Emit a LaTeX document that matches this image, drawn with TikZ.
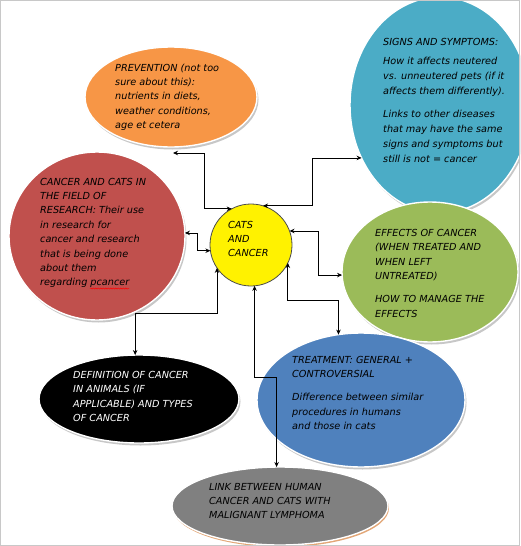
\documentclass[tikz,border=0pt]{standalone}
\usepackage{fontspec}
\setmainfont{DejaVu Sans}
\usetikzlibrary{shapes.geometric,arrows.meta,decorations.pathmorphing}
\definecolor{orangeF}{HTML}{F79646}
\definecolor{blueS}{HTML}{4BACC6}
\definecolor{redR}{HTML}{C0504D}
\definecolor{greenE}{HTML}{9BBB59}
\definecolor{blueT}{HTML}{4F81BD}
\definecolor{greyL}{HTML}{808080}
\definecolor{frameC}{HTML}{C8C8C8}
\definecolor{rimO}{HTML}{E2A676}
\begin{document}
\begin{tikzpicture}[x=1pt,y=-1pt,
  bubble/.style={ellipse,inner sep=0pt,outer sep=0pt,draw=white,line width=1.4pt},
  shadowfill/.style={fill=black!22},
  txt/.style={anchor=base west,inner sep=0pt,font=\fontsize{9.7}{14.4}\selectfont\itshape},
  conn/.style={draw=black,line width=0.8pt,{Stealth[length=5pt,width=4.5pt]}-{Stealth[length=5pt,width=4.5pt]}}
]
\useasboundingbox (0,0) rectangle (520,546);
\begin{scope}
\clip (0,0) rectangle (520,546);
% shadows
\fill[shadowfill] (172.5,99.5) ellipse [x radius=86, y radius=50];
\fill[shadowfill] (441.5,107.5) ellipse [x radius=90, y radius=108];
\fill[shadowfill] (98.5,238.5) ellipse [x radius=88, y radius=84];
\fill[shadowfill] (431.5,274.5) ellipse [x radius=88, y radius=70];
\fill[shadowfill] (362.5,402.5) ellipse [x radius=104, y radius=67];
\fill[shadowfill] (140.5,401.5) ellipse [x radius=100, y radius=44];
\fill[rimO] (281,508) ellipse [x radius=108, y radius=39];
% shapes
\node[bubble,fill=orangeF,minimum width=172pt,minimum height=100pt] (prev) at (171,97) {};
\node[bubble,fill=blueS,minimum width=180pt,minimum height=216pt] (signs) at (440,105) {};
\node[bubble,fill=redR,minimum width=176pt,minimum height=168pt] (red) at (97,236) {};
\node[bubble,fill=greenE,minimum width=176pt,minimum height=140pt] (eff) at (430,272) {};
\node[bubble,fill=blueT,minimum width=208pt,minimum height=134pt] (treat) at (361,400) {};
\node[bubble,fill=black,minimum width=200pt,minimum height=88pt] (def) at (139,399) {};
\node[bubble,fill=greyL,minimum width=216pt,minimum height=78pt] (link) at (280,506) {};
\node[circle,fill=yellow,draw=black!70,line width=0.8pt,minimum size=82pt,inner sep=0pt,outer sep=0pt] (hub) at (251,245) {};
\end{scope}
% connectors
\draw[conn] ([shift={(2,6)}]prev.south) -| ([shift={(-27,0)}]hub.118.6) -- (hub.118.6);
\draw[conn] (hub.73.7) -- ++(49,0) |- (signs.214.7);
\draw[conn] (red.2.6) -- ++(12,0) |- (hub.188.4);
\draw[conn] (hub.214) -- ++(0,45) -| (def.95.2);
\draw[conn] (hub.275.6) -- ++(0,92) -| (link.95.9);
\draw[conn] (hub.20) -- ++(29,0) |- (eff.182.6);
\draw[conn] (hub.334.4) -- ++(0,37) -| (treat.109.4);
% texts
\node[txt] (prevtext) at (115,71) {\begin{tabular}[t]{@{}l@{}}PREVENTION (not too\\ sure about this):\\ nutrients in diets,\\ weather conditions,\\ age et cetera\end{tabular}};
\node[txt,font=\fontsize{9.7}{15}\selectfont\itshape] (signstext) at (383,45) {\begin{tabular}[t]{@{}l@{}}SIGNS AND SYMPTOMS:\\[5pt] How it affects neutered\\ vs. unneutered pets (if it\\ affects them differently).\\[7pt] Links to other diseases\\ that may have the same\\ signs and symptoms but\\ still is not = cancer\end{tabular}};
\node[txt] (redtext) at (40,185) {\begin{tabular}[t]{@{}l@{}}CANCER AND CATS IN\\ THE FIELD OF\\ RESEARCH: Their use\\ in research for\\ cancer and research\\ that is being done\\ about them\\ regarding pcancer\end{tabular}};
\draw[red,line width=0.5pt,decorate,decoration={snake,amplitude=0.6pt,segment length=2.5pt}] (90,288.5) -- (129,288.5);
\node[txt] (hubtext) at (228,228) {\begin{tabular}[t]{@{}l@{}}CATS\\ AND\\ CANCER\end{tabular}};
\node[txt,font=\fontsize{9.7}{14.6}\selectfont\itshape] (efftext) at (375,236) {\begin{tabular}[t]{@{}l@{}}EFFECTS OF CANCER\\ (WHEN TREATED AND\\ WHEN LEFT\\ UNTREATED)\\[8.5pt] HOW TO MANAGE THE\\ EFFECTS\end{tabular}};
\node[txt] (treattext) at (292,363) {\begin{tabular}[t]{@{}l@{}}TREATMENT: GENERAL +\\ CONTROVERSIAL\\[9pt] Difference between similar\\ procedures in humans\\ and those in cats\end{tabular}};
\node[txt,text=white] (deftext) at (73,378.5) {\begin{tabular}[t]{@{}l@{}}DEFINITION OF CANCER\\ IN ANIMALS (IF\\ APPLICABLE) AND TYPES\\ OF CANCER\end{tabular}};
\node[txt] (linktext) at (209,490) {\begin{tabular}[t]{@{}l@{}}LINK BETWEEN HUMAN\\ CANCER AND CATS WITH\\ MALIGNANT LYMPHOMA\end{tabular}};
% frame
\draw[frameC,line width=1pt] (0.5,0.5) rectangle (519.5,545.5);
\end{tikzpicture}
\end{document}
